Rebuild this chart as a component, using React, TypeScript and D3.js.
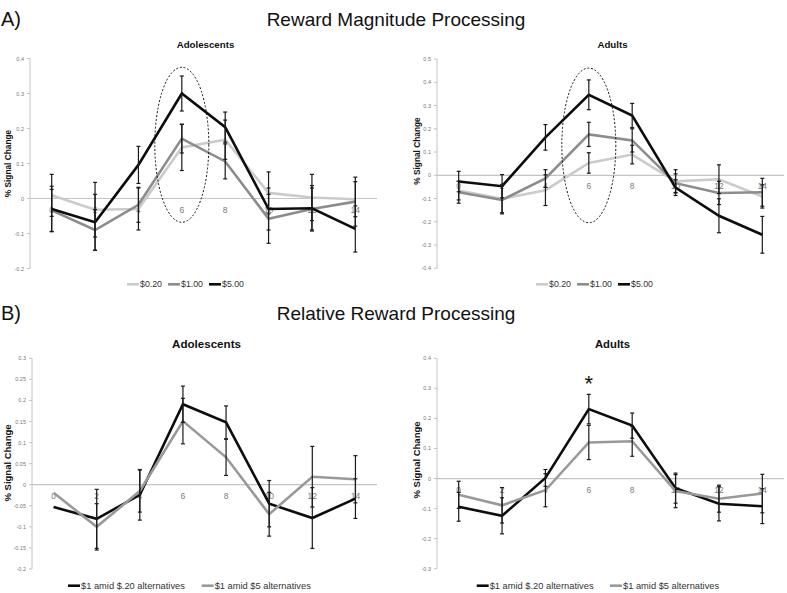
import React, { useEffect, useRef } from 'react';
import * as d3 from 'd3';

// seconds after outcome
const timePoints = ['0', '2', '4', '6', '8', '10', '12', '14'];

// A) Reward magnitude, adolescents
const adolLow = [0.009, -0.032, -0.03, 0.146, 0.168, 0.016, 0.003, -0.002];
const adolLowErr = [0.06, 0.078, 0.06, 0.066, 0.056, 0.06, 0.066, 0.05];
const adolMid = [-0.034, -0.09, -0.018, 0.171, 0.106, -0.058, -0.03, -0.009];
const adolMidErr = [0.06, 0.058, 0.05, 0.041, 0.05, 0.07, 0.06, 0.07];
const adolHigh = [-0.03, -0.068, 0.096, 0.3, 0.204, -0.03, -0.028, -0.087];
const adolHighErr = [0.065, 0.08, 0.053, 0.05, 0.043, 0.06, 0.065, 0.066];

// A) Reward magnitude, adults
const adultLow = [-0.066, -0.101, -0.064, 0.053, 0.089, -0.026, -0.017, -0.091];
const adultLowErr = [0.04, 0.06, 0.066, 0.044, 0.04, 0.05, 0.062, 0.05];
const adultMid = [-0.073, -0.106, -0.014, 0.176, 0.15, -0.034, -0.076, -0.073];
const adultMidErr = [0.047, 0.06, 0.038, 0.052, 0.05, 0.04, 0.05, 0.06];
const adultHigh = [-0.027, -0.047, 0.163, 0.346, 0.257, -0.053, -0.174, -0.256];
const adultHighErr = [0.044, 0.05, 0.055, 0.064, 0.052, 0.034, 0.073, 0.079];

// B) Relative reward, adolescents
const relAdolSmall = [-0.053, -0.081, -0.024, 0.191, 0.148, -0.045, -0.079, -0.033];
const relAdolSmallErr = [0, 0.07, 0.06, 0.043, 0.039, 0.055, 0.072, 0.047];
const relAdolLarge = [-0.019, -0.1, -0.015, 0.151, 0.065, -0.07, 0.019, 0.013];
const relAdolLargeErr = [0, 0.055, 0.05, 0.054, 0.043, 0.052, 0.072, 0.056];

// B) Relative reward, adults
const relAdultSmall = [-0.094, -0.124, 0.002, 0.231, 0.176, -0.032, -0.084, -0.092];
const relAdultSmallErr = [0.048, 0.06, 0.028, 0.049, 0.042, 0.05, 0.057, 0.058];
const relAdultLarge = [-0.054, -0.089, -0.039, 0.12, 0.124, -0.042, -0.067, -0.05];
const relAdultLargeErr = [0.045, 0.059, 0.055, 0.057, 0.05, 0.055, 0.045, 0.064];

const magnitudeNames = ['$0.20', '$1.00', '$5.00'];
const relativeNames = ['$1 amid $.20 alternatives', '$1 amid $5 alternatives'];

const magColors = ['#cbcbcb', '#8c8c8c', '#0d0d0d'];
const relColors = ['#0d0d0d', '#999999'];

const FONT = "'Liberation Sans', Arial, sans-serif";

const panels = [
  {
    title: 'Adolescents', x0: 30, x1: 377, yTop: 58.5, yBottom: 268.5, domain: [-0.2, 0.4], step: 0.1,
    titleY: 48, titleSize: 9.7, yTitleX: 7.5, yTitleY: 163.5, yTitleSize: 8.3,
    legendY: 284.3, legendX: [127, 168, 209], legendSize: 8.8, names: magnitudeNames, colors: magColors,
    values: [adolLow, adolMid, adolHigh], errors: [adolLowErr, adolMidErr, adolHighErr],
    ellipse: [-0.068, 0.375], star: false,
  },
  {
    title: 'Adults', x0: 437, x1: 784, yTop: 59, yBottom: 268.3, domain: [-0.4, 0.5], step: 0.1,
    titleY: 48, titleSize: 9.7, yTitleX: 417, yTitleY: 151, yTitleSize: 8.3,
    legendY: 284.3, legendX: [536, 577, 618], legendSize: 8.8, names: magnitudeNames, colors: magColors,
    values: [adultLow, adultMid, adultHigh], errors: [adultLowErr, adultMidErr, adultHighErr],
    ellipse: [-0.204, 0.461], star: false,
  },
  {
    title: 'Adolescents', x0: 32, x1: 377, yTop: 358.3, yBottom: 569, domain: [-0.2, 0.3], step: 0.05,
    titleY: 348, titleSize: 11.6, yTitleX: 8.3, yTitleY: 463, yTitleSize: 9.5,
    legendY: 585.7, legendX: [68, 201.7], legendSize: 9.3, names: relativeNames, colors: relColors,
    values: [relAdolSmall, relAdolLarge], errors: [relAdolSmallErr, relAdolLargeErr],
    ellipse: null, star: false,
  },
  {
    title: 'Adults', x0: 437, x1: 784, yTop: 358.3, yBottom: 568.7, domain: [-0.3, 0.4], step: 0.1,
    titleY: 348, titleSize: 11.3, yTitleX: 416.7, yTitleY: 460, yTitleSize: 9.5,
    legendY: 585.7, legendX: [476.7, 610], legendSize: 9.3, names: relativeNames, colors: relColors,
    values: [relAdultSmall, relAdultLarge], errors: [relAdultSmallErr, relAdultLargeErr],
    ellipse: null, star: true,
  },
];

function drawPanel(svg: any, p: any) {
  const g = svg.append('g');
  const x = d3.scaleBand().domain(timePoints).range([p.x0, p.x1]);
  const cx = (t: string) => (x(t) as number) + x.bandwidth() / 2;
  const y = d3.scaleLinear().domain(p.domain).range([p.yBottom, p.yTop]);

  const n = Math.round((p.domain[1] - p.domain[0]) / p.step);
  const ticks = d3.range(n + 1).map(i => +(p.domain[0] + i * p.step).toFixed(2));

  // y axis
  g.append('line')
    .attr('x1', p.x0).attr('x2', p.x0)
    .attr('y1', y(p.domain[0])).attr('y2', y(p.domain[1]))
    .attr('stroke', '#c4c4c4').attr('stroke-width', 1);
  g.selectAll('.ytick').data(ticks).join('line')
    .attr('x1', p.x0 - 3).attr('x2', p.x0)
    .attr('y1', d => y(d)).attr('y2', d => y(d))
    .attr('stroke', '#c4c4c4');
  g.selectAll('.ylab').data(ticks).join('text')
    .attr('x', p.x0 - 6).attr('y', d => y(d) + 2)
    .attr('text-anchor', 'end')
    .attr('font-size', 5.5).attr('font-family', FONT).attr('fill', '#777')
    .text(d => String(d));

  // zero line
  g.append('line')
    .attr('x1', p.x0).attr('x2', p.x1)
    .attr('y1', y(0)).attr('y2', y(0))
    .attr('stroke', '#c4c4c4').attr('stroke-width', 1.2);

  // x labels
  g.selectAll('.xlab').data(timePoints).join('text')
    .attr('x', d => cx(d)).attr('y', y(0) + 14)
    .attr('text-anchor', 'middle')
    .attr('font-size', 8.5).attr('font-family', FONT).attr('fill', '#7a7a7a')
    .text(d => d);

  // titles
  g.append('text')
    .attr('x', (p.x0 + p.x1) / 2 + 2).attr('y', p.titleY)
    .attr('text-anchor', 'middle').attr('font-weight', 'bold')
    .attr('font-size', p.titleSize).attr('font-family', FONT).attr('fill', '#111')
    .text(p.title);
  g.append('text')
    .attr('transform', `translate(${p.yTitleX + 3}, ${p.yTitleY}) rotate(-90)`)
    .attr('text-anchor', 'middle').attr('font-weight', 'bold')
    .attr('font-size', p.yTitleSize).attr('font-family', FONT).attr('fill', '#111')
    .text('% Signal Change');

  // lines
  const line = d3.line<number>().x((d, i) => cx(timePoints[i])).y(d => y(d));
  p.values.forEach((vals: number[], s: number) => {
    g.append('path')
      .attr('d', line(vals))
      .attr('fill', 'none')
      .attr('stroke', p.colors[s])
      .attr('stroke-width', 2.6)
      .attr('stroke-linejoin', 'miter');
  });

  // error bars
  p.values.forEach((vals: number[], s: number) => {
    const errs = p.errors[s];
    const bars = vals.map((v, i) => ({ t: timePoints[i], v, e: errs[i] })).filter(d => d.e > 0);
    const eg = g.append('g').attr('stroke', '#1a1a1a').attr('stroke-width', 1.2);
    eg.selectAll('.stem').data(bars).join('line')
      .attr('x1', d => cx(d.t)).attr('x2', d => cx(d.t))
      .attr('y1', d => y(d.v + d.e)).attr('y2', d => y(d.v - d.e));
    [1, -1].forEach(sign => {
      eg.selectAll('.cap' + sign).data(bars).join('line')
        .attr('x1', d => cx(d.t) - 2).attr('x2', d => cx(d.t) + 2)
        .attr('y1', d => y(d.v + sign * d.e)).attr('y2', d => y(d.v + sign * d.e));
    });
  });

  // dashed ellipse round the peak
  if (p.ellipse) {
    g.append('ellipse')
      .attr('cx', cx('6'))
      .attr('cy', (y(p.ellipse[0]) + y(p.ellipse[1])) / 2)
      .attr('rx', 27)
      .attr('ry', (y(p.ellipse[0]) - y(p.ellipse[1])) / 2)
      .attr('fill', 'none').attr('stroke', '#111')
      .attr('stroke-width', 1).attr('stroke-dasharray', '2,1.8');
  }

  if (p.star) {
    g.append('text')
      .attr('x', cx('6')).attr('y', 391)
      .attr('text-anchor', 'middle')
      .attr('font-size', 22).attr('font-family', FONT).attr('fill', '#111')
      .text('*');
  }

  // legend
  p.names.forEach((name: string, s: number) => {
    const lx = p.legendX[s];
    g.append('line')
      .attr('x1', lx).attr('x2', lx + 12)
      .attr('y1', p.legendY).attr('y2', p.legendY)
      .attr('stroke', p.colors[s]).attr('stroke-width', 2.6);
    g.append('text')
      .attr('x', lx + 13).attr('y', p.legendY + p.legendSize * 0.35)
      .attr('font-size', p.legendSize).attr('font-family', FONT).attr('fill', '#333')
      .text(name);
  });
}

export default function App() {
  const ref = useRef<SVGSVGElement>(null);

  useEffect(() => {
    const svg = d3.select(ref.current);
    svg.selectAll('*').remove();

    const headers = [
      { label: 'A)', title: 'Reward Magnitude Processing', y: 26 },
      { label: 'B)', title: 'Relative Reward Processing', y: 320 },
    ];
    headers.forEach(h => {
      svg.append('text').attr('x', 1).attr('y', h.y)
        .attr('font-size', 20).attr('font-family', FONT).attr('fill', '#111')
        .text(h.label);
      svg.append('text').attr('x', 396).attr('y', h.y)
        .attr('text-anchor', 'middle')
        .attr('font-size', 19).attr('font-family', FONT).attr('fill', '#111')
        .text(h.title);
    });

    panels.forEach(p => drawPanel(svg, p));
  }, []);

  return (
    <div>
      <style>{`body { margin: 0; background: #fff; }`}</style>
      <svg ref={ref} width={787} height={593} style={{ display: 'block' }} />
    </div>
  );
}
